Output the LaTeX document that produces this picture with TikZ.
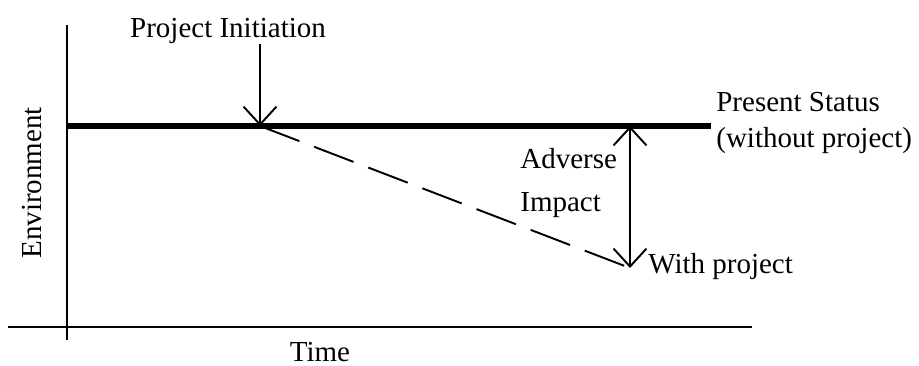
\documentclass[tikz,border=0pt]{standalone}
\usepackage{fontspec}
\setmainfont{Liberation Serif}
\usetikzlibrary{arrows.meta}

\begin{document}
\begin{tikzpicture}[x=0.02cm, y=-0.02cm,
    >={Straight Barb[length=0.36cm, width=0.66cm, line width=1.1pt]},
    axis/.style={line width=1.1pt},
    status/.style={line width=3.4pt},
    label/.style={font=\fontsize{16.5}{20}\selectfont, inner sep=0pt}]
    \useasboundingbox (0,0) rectangle (919,365);

    % Axes
    \coordinate (origin) at (67,327);
    \draw[axis] (67,25) -- (67,340);
    \draw[axis] (8,327) -- (752,327);
    \node[label, rotate=90] (env) at (32,183) {Environment};
    \node[label, anchor=base] (time) at (320,361) {Time};

    % Present status line
    \coordinate (start) at (67,126);
    \coordinate (init) at (260,126);
    \coordinate (top) at (630,126);
    \coordinate (stop) at (711,126);
    \draw[status] (start) -- (stop);
    \node[label, anchor=west, align=left] (status) at (716,123)
        {Present Status\\(without project)};

    % Project initiation
    \node[label, anchor=base] (proj) at (228,37) {Project Initiation};
    \draw[axis, ->] (proj.south -| init) -- (init);

    % With project
    \coordinate (low) at (630,268);
    \draw[axis, dash pattern=on 24pt off 9pt] (init) -- (low);
    \draw[axis, <->] (top) -- (low);
    \node[label, anchor=base west] (with) at (648,273) {With project};

    % Adverse impact
    \node[label, anchor=west, align=left] (impact) at (520,183)
        {Adverse\\[4pt]Impact};
\end{tikzpicture}
\end{document}
